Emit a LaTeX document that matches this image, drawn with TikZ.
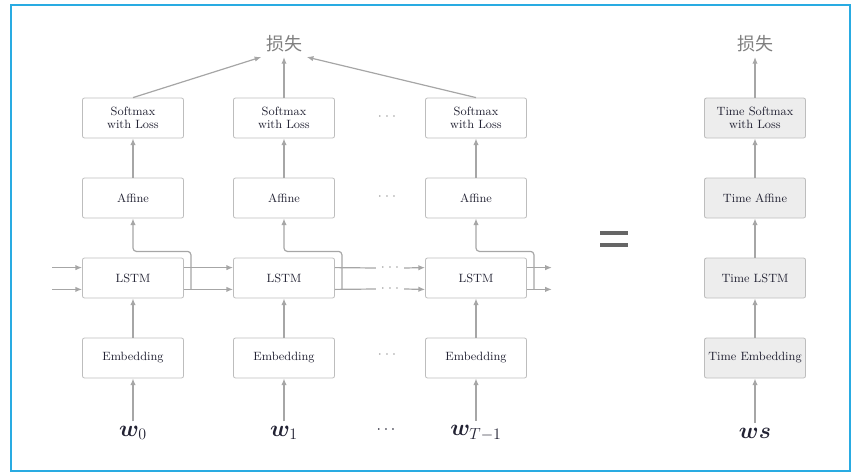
\documentclass[tikz,border=0pt]{standalone}
\usepackage{fontspec}
\usepackage{bm}
\newfontfamily\cjk{Noto Sans CJK SC}
\usetikzlibrary{arrows.meta,calc}

\definecolor{framecol}{HTML}{29ABE2}
\definecolor{linecol}{HTML}{A6A6A6}
\definecolor{boxcol}{HTML}{BDBDBD}
\definecolor{losscol}{HTML}{7F7F7F}
\definecolor{eqcol}{HTML}{666666}
\definecolor{textcol}{HTML}{222233}

\tikzset{
	layer/.style={draw=boxcol, line width=0.6pt, rounded corners=1.5pt,
		minimum width=75.75pt, minimum height=30pt, inner sep=0pt,
		align=center, text=textcol, font=\fontsize{9}{9.5}\selectfont},
	timelayer/.style={layer, fill=black!7},
	flow/.style={draw=linecol, line width=0.9pt, -{Latex[length=5pt,width=4pt]}},
	wire/.style={draw=linecol, line width=0.9pt},
	gap/.style={text=linecol, font=\fontsize{12}{12}\selectfont},
	word/.style={text=textcol, font=\fontsize{17.5}{20}\selectfont},
	losslabel/.style={text=losscol, font=\fontsize{13.5}{14}\cjk}
}

\begin{document}
\begin{tikzpicture}[x=0.75pt, y=-0.75pt]
	
	\useasboundingbox (0,0) rectangle (860,475);
	\draw[framecol, line width=1.2pt] (11,5) rectangle (850,471);
	
	% Unrolled layers
	\node[losslabel] (loss) at (284,44) {损失};
	
	\node[layer] (soft0) at (133,118) {Softmax\\with Loss};
	\node[layer] (soft1) at (284,118) {Softmax\\with Loss};
	\node[layer] (soft2) at (476,118) {Softmax\\with Loss};
	
	\node[layer] (aff0) at (133,198) {Affine};
	\node[layer] (aff1) at (284,198) {Affine};
	\node[layer] (aff2) at (476,198) {Affine};
	
	\node[layer] (lstm0) at (133,278) {LSTM};
	\node[layer] (lstm1) at (284,278) {LSTM};
	\node[layer] (lstm2) at (476,278) {LSTM};
	
	\node[layer] (emb0) at (133,358) {Embedding};
	\node[layer] (emb1) at (284,358) {Embedding};
	\node[layer] (emb2) at (476,358) {Embedding};
	
	\node[word] (w0) at (133,433) {$\bm{w}_0$};
	\node[word] (w1) at (284,433) {$\bm{w}_1$};
	\node[word] (w2) at (476,433) {$\bm{w}_{T-1}$};
	
	% Dots
	\node[gap] (dsoft) at (387,117) {$\cdots$};
	\node[gap] (daff) at (387,197) {$\cdots$};
	\node[gap] (demb) at (387,355) {$\cdots$};
	\node[gap] (dhi) at (390,268) {$\cdots$};
	\node[gap] (dlo) at (390,289) {$\cdots$};
	\node[word, font=\fontsize{13}{14}\selectfont] (dw) at (386,430) {$\cdots$};
	
	% Upwards
	\draw[flow] (w0) -- (emb0);
	\draw[flow] (w1) -- (emb1);
	\draw[flow] (w2) -- (emb2);
	\draw[flow] (emb0) -- (lstm0);
	\draw[flow] (emb1) -- (lstm1);
	\draw[flow] (emb2) -- (lstm2);
	\draw[flow] (aff0) -- (soft0);
	\draw[flow] (aff1) -- (soft1);
	\draw[flow] (aff2) -- (soft2);
	\draw[flow] (soft0.north) -- (loss.south west);
	\draw[flow] (soft1.north) -- (loss.south);
	\draw[flow] (soft2.north) -- (loss.south east);
	
	% Hidden state
	\coordinate (inhi) at ($(lstm0.north west)+(-30,10)$);
	\coordinate (inlo) at ($(lstm0.south west)+(-30,-9)$);
	\coordinate (outhi) at ($(lstm2.north east)+(25,10)$);
	\coordinate (outlo) at ($(lstm2.south east)+(25,-9)$);
	\draw[flow] (inhi) -- ($(lstm0.north west)+(0,10)$);
	\draw[flow] (inlo) -- ($(lstm0.south west)+(0,-9)$);
	\draw[flow] ($(lstm0.north east)+(0,10)$) -- ($(lstm1.north west)+(0,10)$);
	\draw[flow] ($(lstm0.south east)+(0,-9)$) -- ($(lstm1.south west)+(0,-9)$);
	\draw[wire] ($(lstm1.north east)+(0,10)$) -- (dhi.west);
	\draw[wire] ($(lstm1.south east)+(0,-9)$) -- (dlo.west);
	\draw[flow] (dhi.east) -- ($(lstm2.north west)+(0,10)$);
	\draw[flow] (dlo.east) -- ($(lstm2.south west)+(0,-9)$);
	\draw[flow] ($(lstm2.north east)+(0,10)$) -- (outhi);
	\draw[flow] ($(lstm2.south east)+(0,-9)$) -- (outlo);
	
	\draw[flow, rounded corners=2.5pt] ($(lstm0.south east)+(7,-9)$) |- ($(aff0.south)+(0,33)$) -- (aff0.south);
	\draw[flow, rounded corners=2.5pt] ($(lstm1.south east)+(7,-9)$) |- ($(aff1.south)+(0,33)$) -- (aff1.south);
	\draw[flow, rounded corners=2.5pt] ($(lstm2.south east)+(7,-9)$) |- ($(aff2.south)+(0,33)$) -- (aff2.south);
	
	% =
	\fill[eqcol] (600,231) rectangle (628,235);
	\fill[eqcol] (600,243) rectangle (628,247);
	
	% Time layers
	\node[losslabel] (tloss) at (755,44) {损失};
	\node[timelayer] (tsoft) at (755,118) {Time Softmax\\with Loss};
	\node[timelayer] (taff) at (755,198) {Time Affine};
	\node[timelayer] (tlstm) at (755,278) {Time LSTM};
	\node[timelayer] (temb) at (755,358) {Time Embedding};
	\node[word] (ws) at (755,433) {$\bm{ws}$};
	
	\draw[flow] (ws) -- (temb);
	\draw[flow] (temb) -- (tlstm);
	\draw[flow] (tlstm) -- (taff);
	\draw[flow] (taff) -- (tsoft);
	\draw[flow] (tsoft) -- (tloss);
	
\end{tikzpicture}
\end{document}
